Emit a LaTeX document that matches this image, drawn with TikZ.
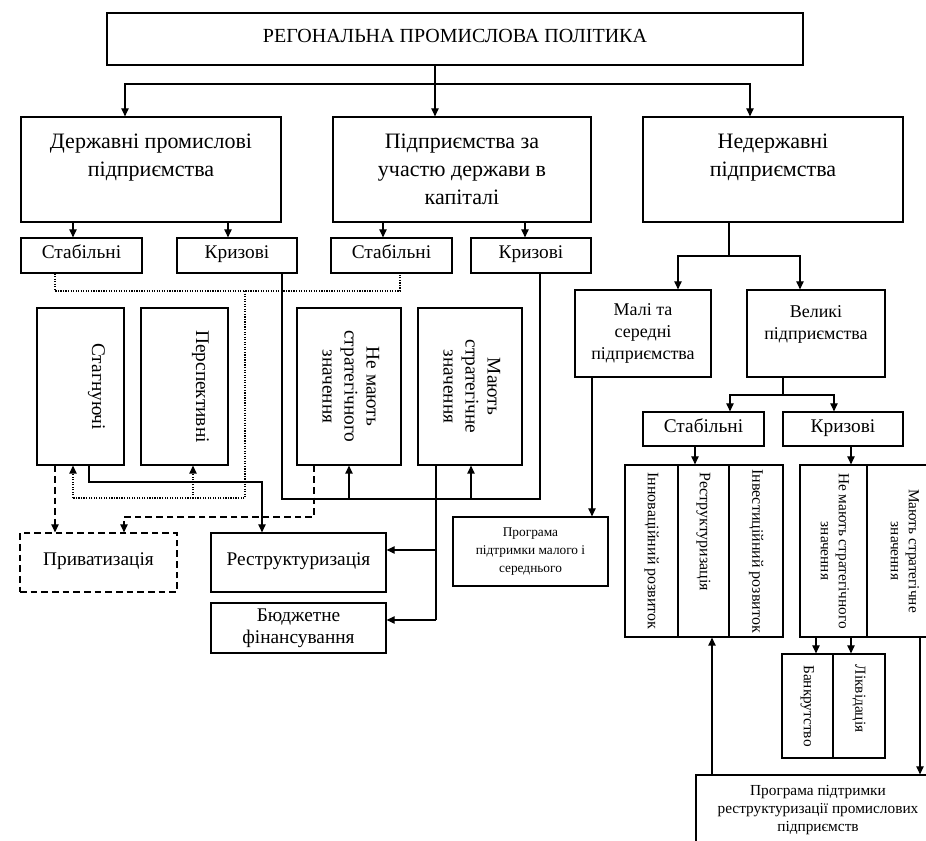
\documentclass[tikz,border=0pt]{standalone}
\usepackage{fontspec}
\usepackage{graphicx}
\setmainfont{Liberation Serif}
\usetikzlibrary{arrows.meta}

\newcommand{\turned}[1]{\rotatebox{-90}{\begin{tabular}{@{}c@{}}#1\end{tabular}}}

\begin{document}
\begin{tikzpicture}[x = 0.75pt, y = -0.75pt, line width = 0.9pt,
    box/.style = {draw, inner sep = 0pt},
    sz/.style 2 args = {minimum width = #1*0.75pt, minimum height = #2*0.75pt},
    one/.style = {text height = 0.7em, text depth = 0.22em},
    arr/.style = {-{Triangle[length = 6pt, width = 5.5pt]}},
    dotline/.style = {densely dotted},
    dashline/.style = {dash pattern = on 5pt off 3pt},
    title/.style = {font = \fontsize{15}{18}\selectfont},
    big/.style = {align = center, font = \fontsize{16.5}{21}\selectfont},
    mid/.style = {align = center, font = \fontsize{14.5}{16.5}\selectfont},
    small/.style = {align = center, font = \fontsize{13.5}{16.5}\selectfont},
    tiny/.style = {align = center, font = \fontsize{10}{13.5}\selectfont},
    vmid/.style = {font = \fontsize{14.5}{16.5}\selectfont},
    vsmall/.style = {font = \fontsize{11.5}{13.5}\selectfont}]
  \useasboundingbox (0,0) rectangle (926,841);
  \clip (0,0) rectangle (926,841);

  % top
  \node [box, title, one, sz={696}{52}] (T) at (455,39) {РЕГОНАЛЬНА ПРОМИСЛОВА ПОЛІТИКА};

  \node [box, big, sz={260}{105}] (D) at (151,169.5) {Державні промислові\\підприємства\\\mbox{}};
  \node [box, big, sz={258}{105}] (U) at (462,169.5) {Підприємства за\\участю держави в\\капіталі};
  \node [box, big, sz={260}{105}] (N) at (773,169.5) {Недержавні\\підприємства\\\mbox{}};

  % left part
  \node [box, mid, one, sz={121}{35}] (S1) at (81.5,255.5) {Стабільні};
  \node [box, mid, one, sz={120}{35}] (K1) at (237,255.5) {Кризові};
  \node [box, mid, one, sz={121}{35}] (S2) at (391.5,255.5) {Стабільні};
  \node [box, mid, one, sz={120}{35}] (K2) at (531,255.5) {Кризові};

  \node [box, vmid, sz={87}{157}] (SG) at (80.5,386.5) {\hspace*{24pt}\turned{Стагнуючі}};
  \node [box, vmid, sz={87}{157}] (PS) at (184.5,386.5) {\hspace*{24pt}\turned{Перспективні}};
  \node [box, vmid, sz={104}{157}] (NM) at (349,386.5) {\turned{Не мають\\стратегічного\\значення}};
  \node [box, vmid, sz={104}{157}] (MS) at (470,386.5) {\turned{Мають\\стратегічне\\значення}};

  \node [box, mid, one, dashline, sz={157}{59}] (PV) at (98.5,562.5) {Приватизація};
  \node [box, mid, one, sz={175}{59}] (RS) at (298.5,562.5) {Реструктуризація};
  \node [box, mid, sz={175}{50}] (BF) at (298.5,628) {Бюджетне\\фінансування};
  \node [box, tiny, sz={155}{69}] (PM) at (530.5,551.5) {Програма\\підтримки малого і\\середнього};

  % right part
  \node [box, small, sz={136}{87}] (ML) at (643,333.5) {Малі та\\середні\\підприємства};
  \node [box, small, sz={138}{87}] (VL) at (816,333.5) {Великі\\підприємства\\\mbox{}};
  \node [box, mid, one, sz={121}{34}] (S3) at (703.5,429) {Стабільні};
  \node [box, mid, one, sz={120}{34}] (K3) at (843,429) {Кризові};

  \node [box, vsmall, font = \fontsize{12}{13.5}\selectfont, sz={53}{172}] (IR) at (651.5,551) {\turned{Інноваційний розвиток}};
  \node [box, vsmall, font = \fontsize{12}{13.5}\selectfont, sz={51}{172}] (RR) at (703.5,551) {\turned{\makebox[118pt][l]{Реструктуризація}}};
  \node [box, vsmall, font = \fontsize{12}{13.5}\selectfont, sz={54}{172}] (IV) at (756,551) {\turned{Інвестиційний розвиток}};
  \node [box, vsmall, sz={67}{172}] (KN) at (833.5,551) {\turned{Не мають стратегічного\\значення}};
  \node [box, vsmall, sz={73}{172}] (KM) at (903.5,551) {\turned{Мають стратегічне\\значення}};
  \node [box, vsmall, sz={51}{104}] (BK) at (807.5,706) {\turned{Банкрутство}};
  \node [box, vsmall, sz={52}{104}] (LQ) at (859,706) {\turned{\makebox[62pt][l]{Ліквідація}}};
  \node [box, vsmall, align = center, sz={244}{70}] (PP) at (818,810) {Програма підтримки\\реструктуризації промислових\\підприємств};

  % junctions
  \coordinate (j0) at (435,84);
  \coordinate (dt) at (245,291);
  \coordinate (db) at (245,498);
  \coordinate (kb) at (400,499);
  \coordinate (m1) at (436,550);
  \coordinate (m2) at (436,620);
  \coordinate (nj) at (729,256);
  \coordinate (vj) at (783,395);

  \draw (435,0 |- T.south) -- (j0);
  \draw [arr] (j0) -| (125,0 |- D.north);
  \draw [arr] (j0) -- (435,0 |- U.north);
  \draw [arr] (j0) -| (750,0 |- N.north);

  \draw [arr] (73,0 |- D.south) -- (73,0 |- S1.north);
  \draw [arr] (228,0 |- D.south) -- (228,0 |- K1.north);
  \draw [arr] (383,0 |- U.south) -- (383,0 |- S2.north);
  \draw [arr] (525,0 |- U.south) -- (525,0 |- K2.north);

  \draw [dotline] (55,0 |- S1.south) |- (400,0 |- dt) -- (400,0 |- S2.south);
  \draw [dotline] (dt) -- (db) -- (73,0 |- db);
  \draw [dotline, arr] (73,0 |- db) -- (73,0 |- SG.south);
  \draw [dotline, arr] (193,0 |- db) -- (193,0 |- PS.south);

  \draw (282,0 |- K1.south) |- (540,0 |- kb) -- (540,0 |- K2.south);
  \draw [arr] (349,0 |- kb) -- (349,0 |- NM.south);
  \draw [arr] (471,0 |- kb) -- (471,0 |- MS.south);

  \draw [arr] (89,0 |- SG.south) -- (89,482) -| (262,0 |- RS.north);
  \draw [dashline, arr] (55,0 |- SG.south) -- (55,0 |- PV.north);
  \draw [dashline, arr] (314,0 |- NM.south) |- (124,517) -- (124,0 |- PV.north);

  \draw (436,0 |- MS.south) -- (m2);
  \draw [arr] (m1) -- (m1 -| RS.east);
  \draw [arr] (m2) -- (m2 -| BF.east);

  \draw (729,0 |- N.south) -- (nj);
  \draw [arr] (nj) -| (678,0 |- ML.north);
  \draw [arr] (nj) -| (800,0 |- VL.north);
  \draw [arr] (592,0 |- ML.south) -- (592,0 |- PM.north);

  \draw (783,0 |- VL.south) -- (vj);
  \draw [arr] (vj) -| (730,0 |- S3.north);
  \draw [arr] (vj) -| (834,0 |- K3.north);

  \draw [arr] (695,0 |- S3.south) -- (695,0 |- RR.north);
  \draw [arr] (851,0 |- K3.south) -- (851,0 |- KN.north);
  \draw [arr] (816,0 |- KN.south) -- (816,0 |- BK.north);
  \draw [arr] (851,0 |- KN.south) -- (851,0 |- LQ.north);
  \draw [arr] (920,0 |- KM.south) -- (920,0 |- PP.north);
  \draw [arr] (712,0 |- PP.north) -- (712,0 |- RR.south);
\end{tikzpicture}
\end{document}
